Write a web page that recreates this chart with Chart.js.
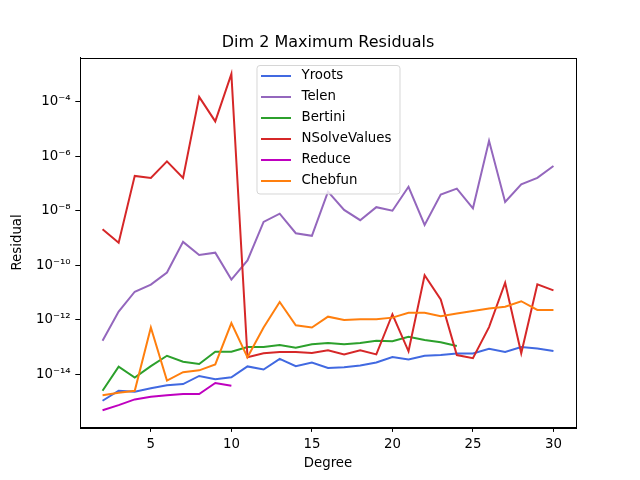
<!DOCTYPE html>
<html>
<head>
<meta charset="utf-8">
<script src="https://cdn.jsdelivr.net/npm/chart.js@4"></script>
<style>
  body { margin: 0; background: #fff; }
  #wrap { width: 640px; height: 480px; }
</style>
</head>
<body>
<div id="wrap"><canvas id="myChart" width="640" height="480"></canvas></div>
<script>
let degrees = [2, 3, 4, 5, 6, 7, 8, 9, 10, 11, 12, 13, 14, 15, 16, 17, 18, 19, 20, 21, 22, 23, 24, 25, 26, 27, 28, 29, 30];

let yroots = [1.07e-15, 2.5e-15, 2.3e-15, 3.1e-15, 4.0e-15, 4.4e-15, 8.7e-15, 6.6e-15, 7.8e-15, 1.95e-14,
              1.5e-14, 3.7e-14, 2.0e-14, 2.7e-14, 1.7e-14, 1.8e-14, 2.1e-14, 2.7e-14, 4.3e-14, 3.5e-14,
              4.8e-14, 5.1e-14, 5.8e-14, 5.8e-14, 8.7e-14, 6.6e-14, 1.0e-13, 8.9e-14, 7.1e-14];
let telen = [1.7e-13, 2.0e-12, 1.07e-11, 1.95e-11, 5.4e-11, 7.2e-10, 2.4e-10, 2.9e-10, 3.0e-11, 1.5e-10,
             3.9e-9, 7.8e-9, 1.5e-9, 1.2e-9, 5.0e-8, 1.07e-8, 4.5e-9, 1.35e-8, 1.0e-8, 7.6e-8,
             3.0e-9, 3.9e-8, 6.5e-8, 1.23e-8, 3.7e-6, 2.1e-8, 9.3e-8, 1.6e-7, 4.4e-7];
// Bertini only goes up to degree 24
let bertini = [2.5e-15, 1.9e-14, 7.6e-15, 2.0e-14, 4.8e-14, 2.9e-14, 2.4e-14, 6.7e-14, 6.7e-14, 1.0e-13,
               1.0e-13, 1.2e-13, 9.5e-14, 1.26e-13, 1.4e-13, 1.26e-13, 1.4e-13, 1.7e-13, 1.65e-13, 2.4e-13,
               1.8e-13, 1.5e-13, 1.1e-13];
let nsolve = [2.1e-9, 6.7e-10, 1.9e-7, 1.6e-7, 6.5e-7, 1.6e-7, 1.5e-4, 1.9e-5, 1.05e-3, 4.2e-14,
              5.9e-14, 6.6e-14, 6.6e-14, 6.0e-14, 7.6e-14, 5.3e-14, 7.6e-14, 5.4e-14, 1.6e-12, 7.0e-14,
              4.3e-11, 5.6e-12, 5.1e-14, 3.9e-14, 5.4e-13, 2.3e-11, 5.9e-14, 2.0e-11, 1.2e-11];
// Reduce only goes up to degree 10
let reduce = [4.8e-16, 7.4e-16, 1.2e-15, 1.5e-15, 1.7e-15, 1.9e-15, 1.9e-15, 4.8e-15, 3.8e-15];
let chebfun = [1.7e-15, 2.1e-15, 2.5e-15, 5.2e-13, 5.9e-15, 1.2e-14, 1.4e-14, 2.3e-14, 7.6e-13, 4.2e-14,
               5.2e-13, 4.5e-12, 6.3e-13, 5.2e-13, 1.3e-12, 9.8e-13, 1.04e-12, 1.04e-12, 1.2e-12, 1.8e-12,
               1.8e-12, 1.35e-12, 1.7e-12, 2.1e-12, 2.6e-12, 3.0e-12, 4.8e-12, 2.3e-12, 2.3e-12];

let labels = ['Yroots', 'Telen', 'Bertini', 'NSolveValues', 'Reduce', 'Chebfun'];
let series = [yroots, telen, bertini, nsolve, reduce, chebfun];
let colors = ['#4169e1', '#9467bd', '#2ca02c', '#d62728', '#bf00bf', '#ff7f0e'];

let xTicks = [5, 10, 15, 20, 25, 30];
let yTickExps = [-14, -12, -10, -8, -6, -4];

const FONT = "'DejaVu Sans', sans-serif";
const SUP = {'-': '\u207B', '0': '\u2070', '1': '\u00B9', '2': '\u00B2', '3': '\u00B3', '4': '\u2074',
             '5': '\u2075', '6': '\u2076', '7': '\u2077', '8': '\u2078', '9': '\u2079'};

function powLabel(v) {
    let e = String(Math.round(Math.log10(v)));
    return '10' + e.split('').map(c => SUP[c]).join('');
}

// box around the plot area, like the matplotlib spines
const frame = {
    id: 'frame',
    afterDraw(chart) {
        const {ctx, chartArea: a} = chart;
        ctx.save();
        ctx.strokeStyle = '#000';
        ctx.lineWidth = 1;
        ctx.strokeRect(Math.round(a.left) + 0.5, Math.round(a.top) + 0.5,
                       Math.round(a.right - a.left), Math.round(a.bottom - a.top));
        ctx.restore();
    }
};

// legend drawn inside the axes (upper center)
const innerLegend = {
    id: 'innerLegend',
    afterDatasetsDraw(chart) {
        const ctx = chart.ctx;
        const x0 = 257, y0 = 65.5, w = 143, h = 128.5, r = 3;
        ctx.save();
        ctx.beginPath();
        ctx.moveTo(x0 + r, y0);
        ctx.arcTo(x0 + w, y0, x0 + w, y0 + h, r);
        ctx.arcTo(x0 + w, y0 + h, x0, y0 + h, r);
        ctx.arcTo(x0, y0 + h, x0, y0, r);
        ctx.arcTo(x0, y0, x0 + w, y0, r);
        ctx.closePath();
        ctx.fillStyle = 'rgba(255,255,255,0.8)';
        ctx.fill();
        ctx.strokeStyle = 'rgba(204,204,204,0.8)';
        ctx.lineWidth = 1;
        ctx.stroke();
        ctx.font = '13.33px ' + FONT;
        ctx.textBaseline = 'middle';
        ctx.textAlign = 'left';
        chart.data.datasets.forEach((ds, i) => {
            let yy = 76 + i * 21;
            ctx.strokeStyle = ds.borderColor;
            ctx.lineWidth = 2;
            ctx.beginPath();
            ctx.moveTo(261, yy);
            ctx.lineTo(291, yy);
            ctx.stroke();
            ctx.fillStyle = '#000';
            ctx.fillText(ds.label, 301.5, yy);
        });
        ctx.restore();
    }
};

let chart1 = new Chart(document.getElementById('myChart').getContext('2d'), {
    type: 'line',
    data: {
        datasets: labels.map((name, i) => ({
            label: name,
            data: series[i].map((v, j) => ({x: degrees[j], y: v})),
            borderColor: colors[i],
            backgroundColor: colors[i],
            borderWidth: 2,
            pointRadius: 0,
            fill: false,
            tension: 0,
            order: labels.length - i
        }))
    },
    options: {
        responsive: false,
        animation: false,
        devicePixelRatio: 1,
        layout: { padding: { left: 0, right: 64, top: 0, bottom: 0 } },
        plugins: {
            legend: { display: false },
            tooltip: { enabled: false },
            title: {
                display: true,
                fullSize: false,
                text: 'Dim 2 Maximum Residuals',
                color: '#000',
                font: { family: FONT, size: 16, weight: 'normal', lineHeight: 1.2 },
                padding: { top: 33, bottom: 5.4 }
            }
        },
        scales: {
            x: {
                type: 'linear',
                min: 0.6,
                max: 31.4,
                afterBuildTicks: s => { s.ticks = xTicks.map(v => ({value: v})); },
                afterFit: s => { s.height = 52.8; },
                grid: { display: true, drawOnChartArea: false, drawTicks: true, tickLength: 4.7, tickColor: '#000', tickWidth: 1 },
                border: { display: true, color: '#000' },
                ticks: { color: '#000', padding: 5, maxRotation: 0, font: { family: FONT, size: 13.33 } },
                title: { display: true, text: 'Degree', color: '#000',
                         font: { family: FONT, size: 13.33, lineHeight: 1.2 }, padding: { top: 0, bottom: 8 } }
            },
            y: {
                type: 'logarithmic',
                min: Math.pow(10, -15.94),
                max: Math.pow(10, -2.382),
                afterBuildTicks: s => { s.ticks = yTickExps.map(e => ({value: Math.pow(10, e)})); },
                afterFit: s => { s.width = 80; },
                grid: { display: true, drawOnChartArea: false, drawTicks: true, tickLength: 4.7, tickColor: '#000', tickWidth: 1 },
                border: { display: true, color: '#000' },
                ticks: { color: '#000', padding: 4.7, font: { family: FONT, size: 13.33 }, callback: v => powLabel(v) },
                title: { display: true, text: 'Residual', color: '#000',
                         font: { family: FONT, size: 13.33, lineHeight: 1.2 }, padding: { top: 10, bottom: 0 } }
            }
        }
    },
    plugins: [frame, innerLegend]
});
</script>
</body>
</html>
